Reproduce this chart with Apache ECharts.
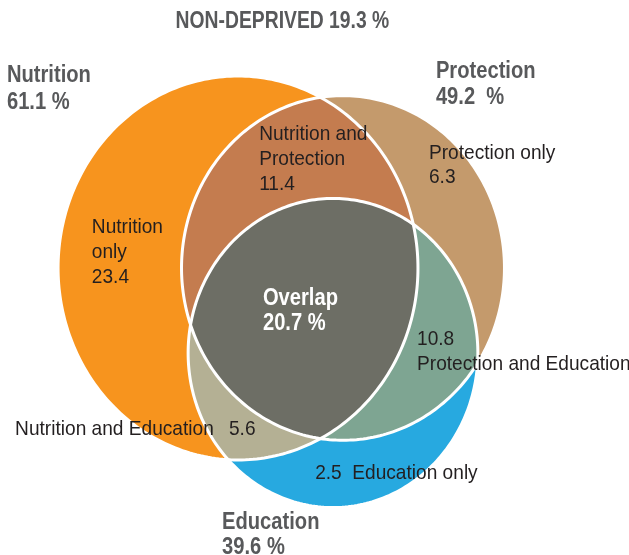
<!DOCTYPE html>
<html>
<head>
<meta charset="utf-8">
<script src="https://cdn.jsdelivr.net/npm/echarts@6/dist/echarts.min.js"></script>
<style>
  html, body { margin: 0; padding: 0; background: #ffffff; }
  #chart { width: 629px; height: 555px; }
</style>
</head>
<body>
<div id="chart"></div>
<script>
// ---- Data: share of children deprived in each dimension (%) ----
const sets = ['Nutrition', 'Protection', 'Education'];
const setShares = [61.1, 49.2, 39.6];
const nonDeprived = 19.3;
const overlapAll = 20.7;
const regionNames = ['Nutrition only', 'Protection only', 'Education only',
  'Nutrition and Protection', 'Nutrition and Education', 'Protection and Education'];
const regionValues = [23.4, 6.3, 2.5, 11.4, 5.6, 10.8];

// ---- Layout (axis units) ----
const circleCenters = [[37.84, 39.93], [54.53, 39.93], [52.94, 52.60]];
const radiusPerSqrtShare = 3.66;

// region membership masks [N, P, E], painted in this order
const regionMasks = [[1,0,0],[0,1,0],[0,0,1],[1,1,0],[1,0,1],[0,1,1],[1,1,1]];
const regionColors = ['#F7941E', '#C49A6C', '#27A9E0', '#C47C4F', '#B4B094', '#7EA592', '#6D6E65'];

// condensed lettering: regular and bold faces squeezed horizontally
const FONT_REG = '21px "Liberation Sans", Arial, sans-serif';
const FONT_BOLD = 'bold 24px "Liberation Sans", Arial, sans-serif';
const FONT_TITLE = 'bold 23px "Liberation Sans", Arial, sans-serif';
const SQUEEZE_REG = 0.91;
const SQUEEZE_BOLD = 0.84;

function ellipsePoly(api, i) {
  const c = api.coord(circleCenters[i]);
  const r = radiusPerSqrtShare * Math.sqrt(setShares[i]);
  const rx = Math.abs(api.size([r, 0])[0]);
  const ry = Math.abs(api.size([0, r])[1]);
  const pts = [];
  const n = 300;
  for (let k = 0; k < n; k++) {
    const t = k / n * Math.PI * 2;
    pts.push([c[0] + rx * Math.cos(t), c[1] + ry * Math.sin(t)]);
  }
  return { pts, c };
}

function lerp(p, q, t) { return [p[0] + (q[0] - p[0]) * t, p[1] + (q[1] - p[1]) * t]; }

// Sutherland-Hodgman clipping against a convex polygon
function clipConvex(subject, clip) {
  const poly = clip.pts, c = clip.c, n = poly.length;
  const a0 = poly[0], b0 = poly[1];
  const s = Math.sign((b0[0]-a0[0])*(c[1]-a0[1]) - (b0[1]-a0[1])*(c[0]-a0[0]));
  const side = (a, b, p) => s * ((b[0]-a[0])*(p[1]-a[1]) - (b[1]-a[1])*(p[0]-a[0]));
  let out = subject;
  for (let i = 0; i < n && out.length; i++) {
    const a = poly[i], b = poly[(i + 1) % n];
    const inp = out; out = [];
    for (let j = 0; j < inp.length; j++) {
      const cur = inp[j], prev = inp[(j + inp.length - 1) % inp.length];
      const dc = side(a, b, cur), dp = side(a, b, prev);
      if (dc >= 0) {
        if (dp < 0) out.push(lerp(prev, cur, dp / (dp - dc)));
        out.push(cur);
      } else if (dp >= 0) {
        out.push(lerp(prev, cur, dp / (dp - dc)));
      }
    }
  }
  return out;
}

function regionPolygon(api, mask) {
  const polys = [0, 1, 2].map(i => ellipsePoly(api, i));
  let result = null;
  mask.forEach((m, i) => {
    if (!m) return;
    result = result ? clipConvex(result, polys[i]) : polys[i].pts;
  });
  return result;
}

// ---- Labels ----
const labelSpecs = [
  { text: `NON-DEPRIVED ${nonDeprived} %`, at: [44.9, 1.27], font: FONT_TITLE, sx: SQUEEZE_BOLD, fill: '#58595B', align: 'center', lh: 26 },
  { text: `${sets[0]}\n${setShares[0]} %`, at: [1.1, 9.16], font: FONT_BOLD, sx: SQUEEZE_BOLD, fill: '#58595B', lh: 27 },
  { text: `${sets[1]}\n${setShares[1]}  %`, at: [69.3, 8.72], font: FONT_BOLD, sx: SQUEEZE_BOLD, fill: '#58595B', lh: 26 },
  { text: `${sets[2]}\n${setShares[2]} %`, at: [35.3, 75.92], font: FONT_BOLD, sx: SQUEEZE_BOLD, fill: '#58595B', lh: 25 },
  { text: `Overlap\n${overlapAll} %`, at: [41.8, 42.54], font: FONT_BOLD, sx: SQUEEZE_BOLD, fill: '#FFFFFF', lh: 25 },
  { text: `Nutrition and\nProtection\n${regionValues[3]}`, at: [41.2, 18.18] },
  { text: `Protection only\n${regionValues[1]}`, at: [68.2, 21.01], lh: 24 },
  { text: `Nutrition\nonly\n${regionValues[0]}`, at: [14.6, 32.04] },
  { text: `${regionValues[5]}\n${regionNames[5]}`, at: [66.3, 48.73] },
  { text: regionNames[4], at: [2.4, 62.14] },
  { text: `${regionValues[4]}`, at: [36.4, 62.14] },
  { text: `${regionValues[2]}  ${regionNames[2]}`, at: [50.1, 68.69] }
];

const chart = echarts.init(document.getElementById('chart'), null, { renderer: 'canvas' });
chart.setOption({
  backgroundColor: '#ffffff',
  animation: false,
  grid: { left: 0, right: 0, top: 0, bottom: 0 },
  xAxis: { type: 'value', min: 0, max: 100, show: false },
  yAxis: { type: 'value', min: 0, max: 82.7, inverse: true, show: false },
  series: [
    {
      type: 'custom',
      coordinateSystem: 'cartesian2d',
      silent: true,
      data: regionMasks.map((m, i) => [i]),
      renderItem: function (params, api) {
        const i = params.dataIndex;
        const pts = regionPolygon(api, regionMasks[i]);
        return {
          type: 'polygon',
          z2: i,
          shape: { points: pts },
          style: { fill: regionColors[i] }
        };
      }
    },
    {
      type: 'custom',
      coordinateSystem: 'cartesian2d',
      silent: true,
      z: 3,
      data: sets.map((s, i) => [i]),
      renderItem: function (params, api) {
        const e = ellipsePoly(api, params.dataIndex);
        return {
          type: 'polygon',
          shape: { points: e.pts },
          style: { fill: 'none', stroke: '#FFFFFF', lineWidth: 3 }
        };
      }
    },
    {
      type: 'custom',
      coordinateSystem: 'cartesian2d',
      silent: true,
      z: 4,
      clip: false,
      data: labelSpecs.map(l => l.at),
      renderItem: function (params, api) {
        const l = labelSpecs[params.dataIndex];
        const p = api.coord(l.at);
        return {
          type: 'text',
          x: p[0],
          y: p[1],
          scaleX: l.sx || SQUEEZE_REG,
          style: {
            text: l.text,
            font: l.font || FONT_REG,
            fill: l.fill || '#231F20',
            align: l.align || 'left',
            verticalAlign: 'top',
            lineHeight: l.lh || 25
          }
        };
      }
    }
  ]
});
</script>
</body>
</html>
